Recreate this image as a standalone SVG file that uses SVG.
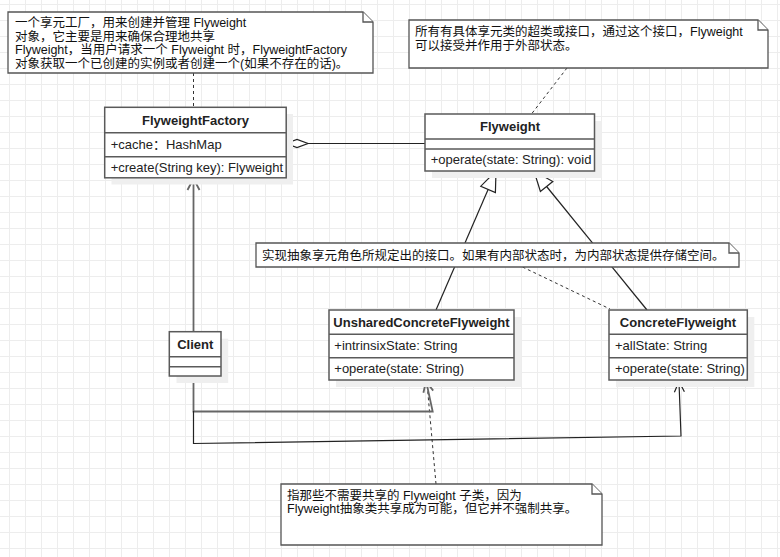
<svg xmlns="http://www.w3.org/2000/svg" width="780" height="557" viewBox="0 0 780 557">
<defs>
<pattern id="grid" x="9" y="4" width="16" height="16" patternUnits="userSpaceOnUse">
<path d="M0 0.5H16M0.5 0V16" stroke="#ededed" stroke-width="1" fill="none"/>
</pattern>
</defs>
<style>
.box{fill:#fff;stroke:#5a5a5a;stroke-width:1.5}
.sh{fill:#efefef}
.div{stroke:#5a5a5a;stroke-width:1.5}
.note{fill:#fff;stroke:#555;stroke-width:1.3}
.t{font-family:"Liberation Sans","Noto Sans CJK SC",sans-serif;font-size:13px;fill:#222}
.b{font-weight:bold;text-anchor:middle}
.n{font-family:"Liberation Sans","Noto Sans CJK SC",sans-serif;font-size:12.5px;fill:#111}
.dash{stroke:#333;stroke-width:1;stroke-dasharray:3,3;fill:none}
.ln{stroke:#222;stroke-width:1.2;fill:none}
.gl{stroke:#666;stroke-width:1.8;fill:none}
</style>
<rect width="780" height="557" fill="#fff"/>
<rect width="780" height="557" fill="url(#grid)"/>

<g id="connectors">
<path class="dash" d="M193.5 73V107"/>
<path class="dash" d="M567 68L531.5 114"/>
<path class="dash" d="M522.5 267L610 309"/>
<path class="dash" d="M436 484L427 383"/>
<path class="ln" d="M308 143.5H425"/>
<path d="M286 143.5L297 139.5L308 143.5L297 147.5Z" fill="#fff" stroke="#222" stroke-width="1.2"/>
<path class="ln" d="M488.1 189.4L436 310"/>
<path d="M496 171L480.8 186.2L495.4 192.6Z" fill="#fff" stroke="#222" stroke-width="1.2"/>
<path class="ln" d="M546.6 186.5L647 310"/>
<path d="M534 171L540.4 191.5L552.8 181.5Z" fill="#fff" stroke="#222" stroke-width="1.2"/>
<path class="gl" d="M193.5 332V179"/>
<path class="gl" d="M187.5 190L193.5 178.5L199.5 190"/>
<path class="gl" d="M193.5 376V411.5H432.7L426.3 382"/>
<path class="gl" d="M423.4 392.8L426 381.5L433.2 390.6" stroke-width="1.4"/>
<path class="ln" d="M193.5 411V443.5L681 436L679 382"/>
<path class="ln" d="M674.4 392.2L679 381.5L684.4 391.8"/>
</g>

<g id="note1">
<path class="note" d="M8 12H363L373 22V73H8Z"/>
<path class="note" d="M363 12V22H373"/>
<text class="n" x="15" y="27">一个享元工厂，用来创建并管理 Flyweight</text>
<text class="n" x="15" y="40.5">对象，它主要是用来确保合理地共享</text>
<text class="n" x="15" y="54">Flyweight，当用户请求一个 Flyweight 时，FlyweightFactory</text>
<text class="n" x="15" y="67.5">对象获取一个已创建的实例或者创建一个(如果不存在的话)。</text>
</g>

<g id="note2">
<path class="note" d="M409 20H758L768 30V68H409Z"/>
<path class="note" d="M758 20V30H768"/>
<text class="n" x="415" y="36">所有有具体享元类的超类或接口，通过这个接口，Flyweight</text>
<text class="n" x="415" y="49.5">可以接受并作用于外部状态。</text>
</g>

<g id="note3">
<path class="note" d="M256 243H729L739 253V267H256Z"/>
<path class="note" d="M729 243V253H739"/>
<text class="n" x="262" y="260">实现抽象享元角色所规定出的接口。如果有内部状态时，为内部状态提供存储空间。</text>
</g>

<g id="note4">
<path class="note" d="M281 484H592L602 494V545H281Z"/>
<path class="note" d="M592 484V494H602"/>
<text class="n" x="287" y="499.5">指那些不需要共享的 Flyweight 子类，因为</text>
<text class="n" x="287" y="513">Flyweight抽象类共享成为可能，但它并不强制共享。</text>
</g>

<g id="FlyweightFactory">
<rect class="sh" x="111.5" y="114" width="181.5" height="70.5"/>
<rect class="box" x="104.7" y="107.3" width="181.5" height="70.5"/>
<path class="div" d="M104.7 132.7H286.2M104.7 156.7H286.2"/>
<text class="t b" x="195.5" y="124.8">FlyweightFactory</text>
<text class="t" x="110.7" y="148.5">+cache：HashMap</text>
<text class="t" x="110.7" y="171.5">+create(String key): Flyweight</text>
</g>

<g id="Flyweight">
<rect class="sh" x="432" y="121" width="169.5" height="57"/>
<rect class="box" x="425" y="114" width="169.5" height="57"/>
<path class="div" d="M425 139H594.5M425 149H594.5"/>
<text class="t b" x="510" y="131">Flyweight</text>
<text class="t" x="430.7" y="164">+operate(state: String): void</text>
</g>

<g id="Client">
<rect class="sh" x="176.5" y="338.7" width="51.7" height="44.3"/>
<rect class="box" x="169.3" y="331.7" width="51.7" height="44.3"/>
<path class="div" d="M169.3 356.7H221M169.3 366.7H221"/>
<text class="t b" x="195.2" y="348.5">Client</text>
</g>

<g id="UnsharedConcreteFlyweight">
<rect class="sh" x="336" y="317" width="185" height="70"/>
<rect class="box" x="329" y="310" width="185" height="70"/>
<path class="div" d="M329 334.3H514M329 357.7H514"/>
<text class="t b" x="421.5" y="327">UnsharedConcreteFlyweight</text>
<text class="t" x="334.3" y="350">+intrinsixState: String</text>
<text class="t" x="334.3" y="373.3">+operate(state: String)</text>
</g>

<g id="ConcreteFlyweight">
<rect class="sh" x="616" y="317" width="138.3" height="70"/>
<rect class="box" x="609" y="310" width="138.3" height="70"/>
<path class="div" d="M609 334.3H747.3M609 357.7H747.3"/>
<text class="t b" x="678" y="327">ConcreteFlyweight</text>
<text class="t" x="615" y="350">+allState: String</text>
<text class="t" x="615" y="373.3">+operate(state: String)</text>
</g>
</svg>
